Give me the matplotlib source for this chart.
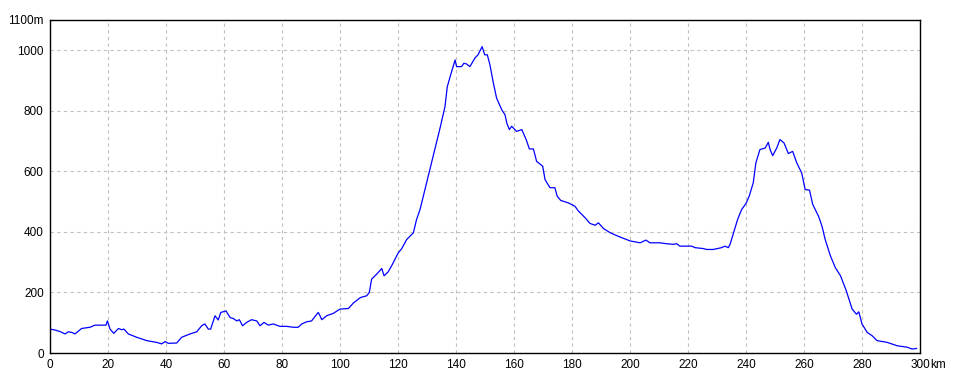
import matplotlib.pyplot as plt

# distance along route (km) and elevation (m)
dist_km = [0, 1.7, 3.4, 5.2, 6.3, 7.5, 8.6, 10.9, 13.8, 15.5, 19.3, 19.8, 20.7, 22, 23.6,
           24.7, 25.5, 27, 29.9, 33.3, 36.8, 38.5, 39.7, 40.8, 43.7, 45.4, 48.3, 50.6,
           52.3, 53.4, 54.6, 55.4, 56.9, 58, 58.9, 60.7, 62.1, 63.2, 64.4, 65.3, 66.4,
           67.8, 69.5, 71.3, 72.4, 73.8, 75.3, 77, 79.3, 81.6, 83.9, 85.6, 86.8, 88.5,
           90.2, 92, 92.5, 93.1, 93.7, 95.4, 97.7, 100, 102.9, 104.6, 107, 109.2, 110.1,
           110.9, 112.6, 114.4, 115.2, 116.6, 117.8, 120.1, 121.3, 123, 125.3, 126.4,
           127.6, 129.3, 131, 132.8, 134.5, 136.2, 137, 138.5, 139.7, 140.2, 141.9,
           142.7, 143.6, 144.8, 146.5, 147.6, 149, 149.9, 150.8, 151.7, 152.9, 154,
           155.8, 156.9, 157.5, 158.4, 159.2, 160.9, 162.7, 164.2, 165.3, 166.7, 167.8,
           169.9, 170.7, 172.4, 174.1, 174.9, 176.1, 178.7, 181, 182.2, 184.5, 186.2,
           188, 189.1, 190.9, 193.2, 196.6, 200.1, 203.5, 205.5, 206.9, 210.3, 212.6,
           214.9, 216.1, 217.2, 221.3, 222.4, 225.3, 226.4, 228.7, 231.6, 232.7, 233.9,
           234.5, 235.7, 237.1, 238.5, 240, 241.1, 242.5, 243.4, 244.8, 246.6, 247.7,
           248.3, 249.2, 250.6, 251.7, 253.1, 254.6, 256.1, 257.5, 259.2, 260.4, 261.9,
           263, 265, 266.2, 267.3, 269.1, 270.8, 272.6, 274.6, 276.6, 278.1, 278.9,
           280, 281.8, 283.5, 285.2, 288.7, 292.1, 295.6, 297.3, 298.8]
elev_m = [79, 76, 71, 63, 70, 68, 63, 81, 85, 92, 92, 106, 79, 65, 81,
          77, 79, 63, 52, 41, 35, 30, 38, 32, 33, 52, 63, 70,
          90, 96, 79, 79, 123, 109, 134, 139, 117, 114, 106, 110, 90,
          101, 110, 106, 90, 101, 92, 96, 88, 88, 85, 85, 96, 103,
          106, 128, 134, 123, 110, 123, 131, 145, 147, 165, 183, 189, 200,
          244, 260, 279, 255, 268, 288, 331, 345, 375, 397, 441,
          474, 540, 606, 677, 743, 814, 880, 930, 968, 946, 946,
          957, 955, 946, 974, 985, 1012, 985, 985, 952, 891, 842,
          803, 787, 760, 738, 749, 732, 738, 705, 674, 674, 633,
          617, 573, 546, 546, 518, 504, 496, 485, 469, 447, 428,
          422, 430, 411, 397, 383, 370, 364, 373, 364, 364, 361,
          359, 361, 353, 353, 348, 345, 342, 342, 348, 353, 348,
          359, 397, 441, 474, 494, 518, 562, 628, 672, 677, 696,
          672, 652, 677, 705, 694, 659, 666, 628, 595, 540, 538,
          491, 452, 419, 375, 321, 282, 255, 205, 145, 128, 136,
          96, 68, 57, 41, 35, 24, 19, 13, 15]

x_ticks = list(range(0, 301, 20))
x_labels = [str(v) for v in x_ticks]
y_ticks = [0, 200, 400, 600, 800, 1000, 1100]
y_labels = ['0', '200', '400', '600', '800', '1000', '1100m']

plt.rcParams['font.family'] = ['Liberation Sans', 'DejaVu Sans']

fig = plt.figure(figsize=(9.6, 3.84), dpi=100)
ax = fig.add_axes([50 / 960, 31 / 384, 870 / 960, 333 / 384])

ax.plot(dist_km, elev_m, color='#0000ff', lw=0.9)

ax.set_xlim(0, 300)
ax.set_ylim(0, 1100)
ax.set_xticks(x_ticks, x_labels)
ax.set_yticks(y_ticks, y_labels)
ax.tick_params(length=0, labelsize=8.5, pad=4.5)
ax.grid(True, color='#c0c0c0', ls=(0, (3, 3)), lw=0.8)
for s in ax.spines.values():
    s.set_linewidth(1)
    s.set_color('black')

# unit right after the "300" label
fig.canvas.draw()
last = ax.get_xticklabels()[-1].get_window_extent()
fig.text(last.x1 / 960, last.y0 / 384, 'km', fontsize=8.5, ha='left', va='bottom')

fig.savefig('out.png', dpi=100)
